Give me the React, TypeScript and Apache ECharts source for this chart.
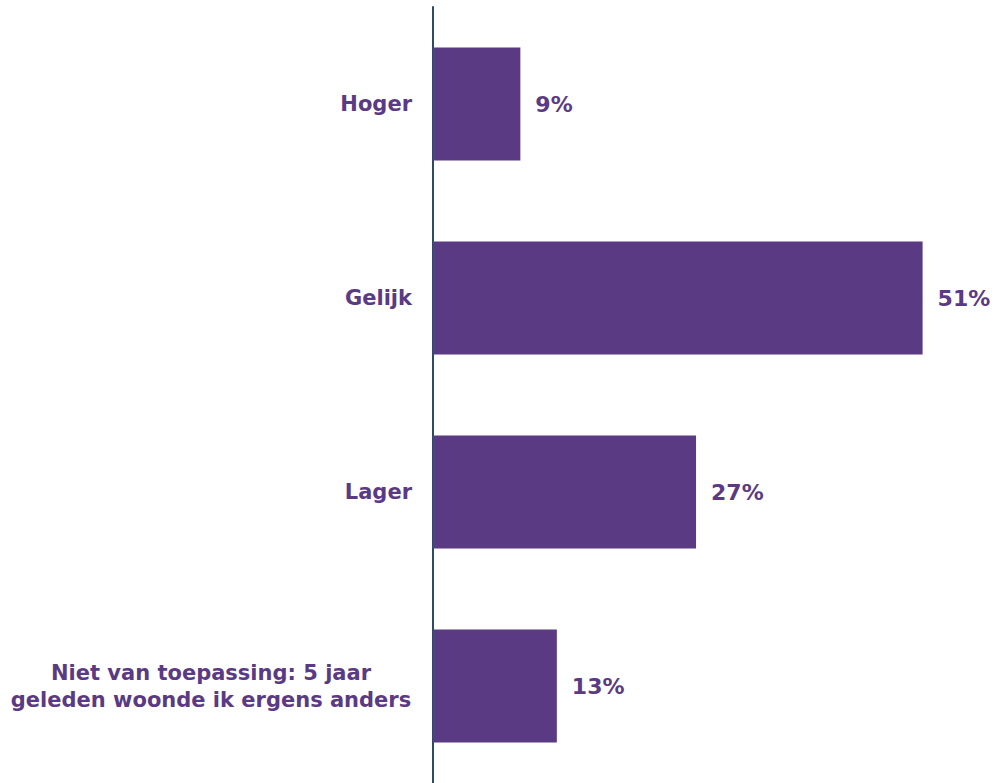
import React, { useEffect, useRef } from "react";
import * as echarts from "echarts";

const categories = [
  "Hoger",
  "Gelijk",
  "Lager",
  "Niet van toepassing: 5 jaar\ngeleden woonde ik ergens anders",
];
const values = [9.1, 51.0, 27.4, 12.9];

const PURPLE = "#5B3A84";
const FONT = "DejaVu Sans";

export default function App() {
  const ref = useRef<HTMLDivElement>(null);
  useEffect(() => {
    const chart = echarts.init(ref.current!, null, { renderer: "svg" });
    chart.setOption({
      animation: false,
      grid: { left: 433, right: 36, top: 7, bottom: -4, containLabel: false },
      xAxis: { type: "value", min: 0, max: 55, show: false },
      yAxis: {
        type: "category",
        inverse: true,
        data: categories,
        axisLine: { show: true, lineStyle: { color: "#2E4A6B", width: 2 } },
        axisTick: { show: false },
        axisLabel: {
          margin: 21,
          color: PURPLE,
          fontFamily: FONT,
          fontWeight: "bold",
          fontSize: 21,
          lineHeight: 27,
          align: "right",
          formatter: (v: string) => {
            if (v.indexOf("\n") < 0) return v;
            return v
              .split("\n")
              .map((s) => "{c|" + s + "}")
              .join("\n");
          },
          rich: {
            c: {
              width: 402,
              align: "center",
              color: PURPLE,
              fontFamily: FONT,
              fontWeight: "bold",
              fontSize: 21,
              lineHeight: 27,
            },
          },
        },
      },
      series: [
        {
          type: "bar",
          data: values,
          barWidth: 113,
          itemStyle: { color: PURPLE },
          label: {
            show: true,
            position: "right",
            distance: 15,
            formatter: (p: any) => Math.round(p.value) + "%",
            color: PURPLE,
            fontFamily: FONT,
            fontWeight: "bold",
            fontSize: 22,
          },
        },
      ],
    });
    return () => chart.dispose();
  }, []);
  return <div ref={ref} style={{ width: 997, height: 783, position: "absolute", left: 0, top: 0 }} />;
}
